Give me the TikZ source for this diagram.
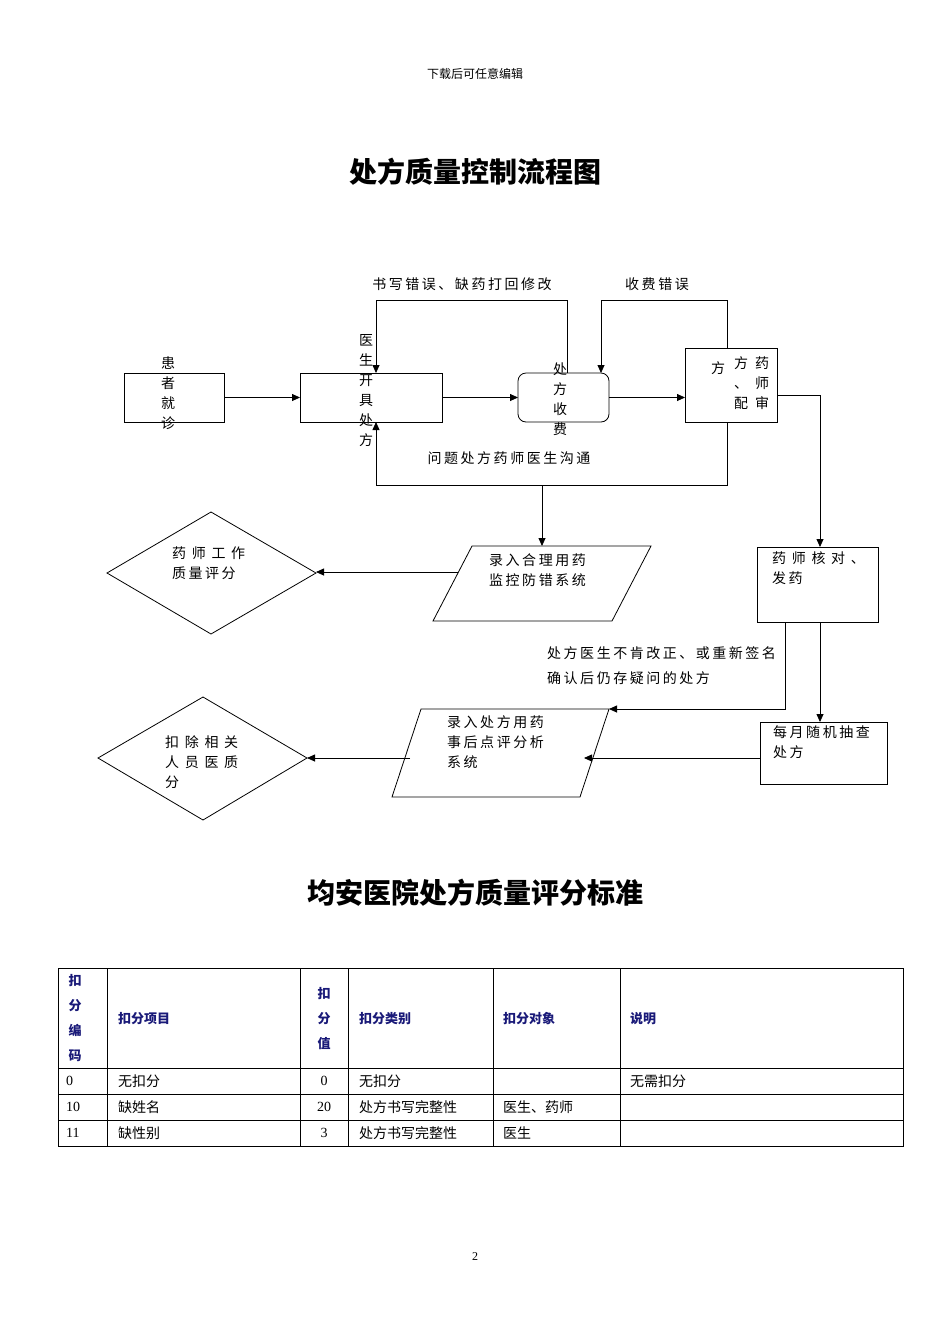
\documentclass[tikz,border=0pt]{standalone}
\usepackage{fontspec}
\setmainfont{Noto Sans CJK SC}
\newfontfamily\numf{Liberation Serif}
\newfontfamily\spf[LetterSpace=18]{Noto Sans CJK SC}
\usetikzlibrary{shapes.geometric,arrows.meta}
\definecolor{hdr}{RGB}{25,25,120}
\begin{document}
\begin{tikzpicture}[x=1pt,y=-1pt,
  box/.style={draw,line width=0.8pt},
  arr/.style={line width=0.8pt,-{Triangle[length=8pt,width=7pt]}},
  t/.style={font=\spf\fontsize{14}{20}\selectfont,inner sep=0pt,align=center},
  tl/.style={font=\spf\fontsize{14}{20}\selectfont,inner sep=0pt,align=left,anchor=north west},
  th/.style={font=\fontsize{13}{24}\selectfont\bfseries,text=hdr,inner sep=0pt,align=center},
  td/.style={font=\fontsize{14}{18}\selectfont,inner sep=0pt,anchor=west}]
\useasboundingbox (0,0) rectangle (950,1344);
\node[font=\fontsize{12}{14}\selectfont] (hd) at (475,74) {下载后可任意编辑};
\node[font=\fontsize{28}{32}\selectfont\bfseries] (t1) at (475,172) {处方质量控制流程图};
\node[font=\fontsize{28}{32}\selectfont\bfseries] (t2) at (475,893) {均安医院处方质量评分标准};
\node[font=\fontsize{12}{12}\selectfont\numf] (pg) at (475,1257) {2};

% boxes
\draw[box] (124,373) rectangle (224,422);
\node[t] at (168,393) {患\\者\\就\\诊};
\draw[box] (300,373) rectangle (442,422);
\node[t] at (366,391) {医\\生\\开\\具\\处\\方};
\draw[box,rounded corners=8pt] (518,373) rectangle (609,422);
\node[t] at (560,399) {处\\方\\收\\费};
\draw[box] (685,348) rectangle (777,422);
\node[t] at (762,383) {药\\师\\审};
\node[t] at (741,383) {方\\、\\配};
\node[t] at (718,368) {方};
\coordinate (b1r) at (224,397.5); \coordinate (b2l) at (300,397.5);
\coordinate (b2r) at (442,397.5); \coordinate (b3l) at (518,397.5);
\coordinate (b3r) at (609,397.5); \coordinate (b4l) at (685,397.5);
\draw[arr] (b1r) -- (b2l);
\draw[arr] (b2r) -- (b3l);
\draw[arr] (b3r) -- (b4l);
% feedback loops
\draw[arr] (567,373) -- (567,300) -- (376,300) -- (376,373);
\node[t] at (462,284) {书写错误、缺药打回修改};
\draw[arr] (727,348) -- (727,300) -- (601,300) -- (601,373);
\node[t] at (657,284) {收费错误};
\draw[arr] (727,422) -- (727,485) -- (376,485) -- (376,422);
\node[t] at (509,458) {问题处方药师医生沟通};
\draw[arr] (542,485) -- (542,546);
\draw[arr] (777,395) -- (820,395) -- (820,547);

% row 2
\draw[box] (757,547) rectangle (878,622);
\node[tl] at (772,551) {药 师 核 对 、\\发药};
\draw[box] (472,546) -- (651,546) -- (612,621) -- (433,621) -- cycle;
\node[tl] at (489,553) {录入合理用药\\监控防错系统};
\draw[box] (107,573) -- (211,512) -- (316,573) -- (211,634) -- cycle;
\node[tl] at (172,547) {药 师 工 作\\质量评分};
\draw[arr] (458,572) -- (316,572);

\draw[arr] (785,622) -- (785,709) -- (609,709);
\node[tl,font=\spf\fontsize{14}{25}\selectfont] at (547,646) {处方医生不肯改正、或重新签名\\确认后仍存疑问的处方};
\draw[arr] (820,622) -- (820,722);
\draw[box] (760,722) rectangle (887,784);
\node[tl] at (773,725) {每月随机抽查\\处方};
\draw[box] (421,709) -- (609,709) -- (580,797) -- (392,797) -- cycle;
\node[tl] at (447,715) {录入处方用药\\事后点评分析\\系统};
\draw[arr] (760,758) -- (584,758);
\draw[box] (98,758) -- (203,697) -- (307,758) -- (203,820) -- cycle;
\draw[arr] (410,758) -- (307,758);
\node[tl] at (165,735) {扣 除 相 关\\人 员 医 质\\分};

% table
\draw[line width=0.8pt] (58,968) rectangle (903,1146);
\foreach \y in {1068,1094,1120} \draw[line width=0.6pt] (58,\y) -- (903,\y);
\foreach \x in {107,300,348,493,620} \draw[line width=0.6pt] (\x,968) -- (\x,1146);
\node[th,font=\fontsize{13}{25}\selectfont\bfseries] at (75,1018) {扣\\分\\编\\码};
\node[th,font=\fontsize{13}{25}\selectfont\bfseries] at (324,1019) {扣\\分\\值};
\node[th,anchor=west] at (118,1019) {扣分项目};
\node[th,anchor=west] at (359,1019) {扣分类别};
\node[th,anchor=west] at (503,1019) {扣分对象};
\node[th,anchor=west] at (630,1019) {说明};
\node[td,font=\fontsize{14}{18}\selectfont\numf] at (66,1081) {0};
\node[td] at (118,1081) {无扣分};
\node[td,anchor=center,font=\fontsize{14}{18}\selectfont\numf] at (324,1081) {0};
\node[td] at (359,1081) {无扣分};
\node[td] at (630,1081) {无需扣分};
\node[td,font=\fontsize{14}{18}\selectfont\numf] at (66,1107) {10};
\node[td] at (118,1107) {缺姓名};
\node[td,anchor=center,font=\fontsize{14}{18}\selectfont\numf] at (324,1107) {20};
\node[td] at (359,1107) {处方书写完整性};
\node[td] at (503,1107) {医生、药师};
\node[td,font=\fontsize{14}{18}\selectfont\numf] at (66,1133) {11};
\node[td] at (118,1133) {缺性别};
\node[td,anchor=center,font=\fontsize{14}{18}\selectfont\numf] at (324,1133) {3};
\node[td] at (359,1133) {处方书写完整性};
\node[td] at (503,1133) {医生};
\end{tikzpicture}
\end{document}
